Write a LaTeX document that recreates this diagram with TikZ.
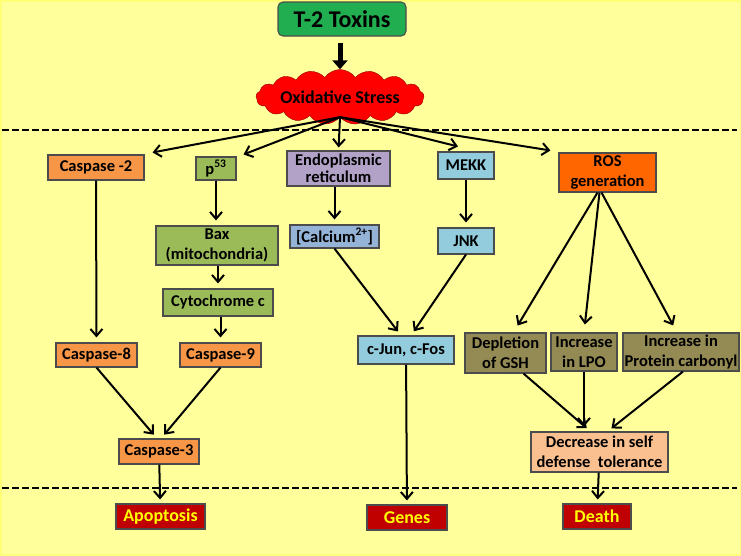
\documentclass[tikz,border=0pt]{standalone}
\usepackage{fontspec}
\setmainfont{Carlito}
\usetikzlibrary{arrows.meta,shapes.symbols}

\definecolor{PaleYellow}{RGB}{255,255,155}
\definecolor{EdgeYellow}{RGB}{255,255,120}
\definecolor{ToxinGreen}{RGB}{32,174,80}
\definecolor{CaspOrange}{RGB}{247,150,70}
\definecolor{LeafGreen}{RGB}{155,187,89}
\definecolor{ErPurple}{RGB}{178,162,199}
\definecolor{SkyBlue}{RGB}{147,205,221}
\definecolor{CalcBlue}{RGB}{149,179,215}
\definecolor{RosOrange}{RGB}{255,102,0}
\definecolor{OliveBox}{RGB}{148,138,84}
\definecolor{PeachBox}{RGB}{250,192,144}
\definecolor{DarkRed}{RGB}{192,0,0}
\definecolor{TextYellow}{RGB}{255,255,0}

\begin{document}
\begin{tikzpicture}[x=1pt,y=-1pt,
    box/.style={draw=black!70, line width=1.1pt, inner sep=1pt, align=center, text=black,
                font=\fontsize{16.5}{19.5}\selectfont\bfseries},
    endbox/.style={box, fill=DarkRed, text=TextYellow,
                font=\fontsize{18}{21}\selectfont\bfseries},
    arr/.style={-{Straight Barb[length=7pt,width=12pt]}, line width=2pt, shorten >=5pt},
    divider/.style={line width=2pt, dash pattern=on 7pt off 3pt}]
    % background
    \useasboundingbox (0,0) rectangle (741,555);
    \fill[PaleYellow] (0,0) rectangle (741,555);
    \draw[EdgeYellow, line width=3pt] (0,0) rectangle (741,555);

    % top: toxin and stress
    \node[box, fill=ToxinGreen, rounded corners=5pt, minimum width=128pt, minimum height=34pt,
          font=\fontsize{24}{28}\selectfont\bfseries] (toxins) at (342,19) {T-2 Toxins};
    \node[cloud, cloud puffs=17, cloud puff arc=110, cloud ignores aspect, draw=red!60!black,
          fill=red, minimum width=168pt, minimum height=55pt, inner sep=0pt,
          font=\fontsize{18}{21}\selectfont\bfseries, text=black] (stress) at (340,97) {Oxidative Stress};
    \draw[-{Triangle[length=9pt,width=15pt]}, line width=5pt, shorten <=6pt]
        (toxins.south -| stress.north) -- (stress.north);

    % dividers
    \draw[divider] (2,130) -- (737,130);
    \draw[divider] (2,488) -- (737,488);

    % first row
    \node[box, fill=CaspOrange, minimum width=96pt, minimum height=25pt] (casp2) at (96,167.5) {Caspase -2};
    \node[box, fill=LeafGreen, minimum width=40pt, minimum height=23pt] (p53) at (216,168.5) {p\textsuperscript{53}};
    \node[box, fill=ErPurple, minimum width=103pt, minimum height=35pt, inner sep=0pt] (er) at (338.5,168.5) {Endoplasmic\\[-3pt]reticulum};
    \node[box, fill=SkyBlue, minimum width=56pt, minimum height=27pt] (mekk) at (466,165.5) {MEKK};
    \node[box, fill=RosOrange, minimum width=97pt, minimum height=39pt] (ros) at (607.5,172.5) {ROS\\generation};

    % middle boxes
    \node[box, fill=LeafGreen, minimum width=122pt, minimum height=39pt] (bax) at (217,245.5) {Bax\\(mitochondria)};
    \node[box, fill=LeafGreen, minimum width=110pt, minimum height=27pt] (cytc) at (218,302.5) {Cytochrome c};
    \node[box, fill=CalcBlue, minimum width=89pt, minimum height=23pt] (calcium) at (334.5,236.5) {[Calcium\textsuperscript{2+}]};
    \node[box, fill=SkyBlue, minimum width=56pt, minimum height=26pt] (jnk) at (466,241) {JNK};

    % lower boxes
    \node[box, fill=CaspOrange, minimum width=81pt, minimum height=24pt] (casp8) at (96.5,355) {Caspase-8};
    \node[box, fill=CaspOrange, minimum width=81pt, minimum height=24pt] (casp9) at (220.5,355) {Caspase-9};
    \node[box, fill=CaspOrange, minimum width=80pt, minimum height=25pt] (casp3) at (159,451.5) {Caspase-3};
    \node[box, fill=SkyBlue, minimum width=96pt, minimum height=28pt] (cjun) at (406,350) {c-Jun, c-Fos};
    \node[box, fill=OliveBox, minimum width=81pt, minimum height=40pt] (gsh) at (505.5,353) {Depletion\\of GSH};
    \node[box, fill=OliveBox, minimum width=66pt, minimum height=38pt] (lpo) at (584,352) {Increase\\in LPO};
    \node[box, fill=OliveBox, minimum width=116pt, minimum height=38pt] (protein) at (681,352) {Increase in\\Protein carbonyl};
    \node[box, fill=PeachBox, minimum width=137pt, minimum height=40pt] (decrease) at (599.5,452) {Decrease in self\\defense\ \ tolerance};

    % outcomes
    \node[endbox, minimum width=89pt, minimum height=25pt] (apoptosis) at (160.5,516.5) {Apoptosis};
    \node[endbox, minimum width=80pt, minimum height=25pt] (genes) at (407,517.5) {Genes};
    \node[endbox, minimum width=68pt, minimum height=25pt] (death) at (597,516.5) {Death};

    % arrows out of the stress cloud
    \draw[arr, shorten >=0pt] (stress.south) -- ([xshift=8pt,yshift=2pt]casp2.north east);
    \draw[arr, shorten >=0pt] (stress.south) -- ([xshift=7pt,yshift=2pt]p53.north east);
    \draw[arr, shorten >=3pt] (stress.south) -- (er.north);
    \draw[arr, shorten >=0pt] (stress.south) -- ([xshift=-8pt,yshift=5pt]mekk.north);
    \draw[arr, shorten >=0pt] (stress.south) -- ([xshift=-8pt,yshift=2pt]ros.north west);

    % caspase branch
    \draw[arr] (casp2) -- (casp8);
    \draw[arr] (p53) -- (bax.north -| p53);
    \draw[arr] (bax.south -| cytc) -- (cytc);
    \draw[arr] (cytc.south -| casp9) -- (casp9);
    \draw[arr] (casp8.south) -- ([xshift=-2pt]casp3.north);
    \draw[arr] (casp9.south) -- ([xshift=2pt]casp3.north);
    \draw[arr, shorten >=4pt] (casp3) -- (apoptosis);

    % gene branch
    \draw[arr] (er.south -| calcium) -- (calcium);
    \draw[arr] (mekk) -- (jnk);
    \draw[arr] (calcium.south) -- ([xshift=-5pt]cjun.north);
    \draw[arr] (jnk.south) -- ([xshift=5pt]cjun.north);
    \draw[arr, shorten >=4pt] (cjun) -- (genes);

    % ROS branch
    \draw[arr, shorten >=8pt] ([xshift=-10pt]ros.south) -- ([xshift=8pt]gsh.north);
    \draw[arr, shorten >=8pt] ([xshift=-8pt]ros.south) -- (lpo.north);
    \draw[arr, shorten >=8pt] ([xshift=-6pt]ros.south) -- ([xshift=-4pt]protein.north);
    \draw[arr] ([xshift=18pt]gsh.south) -- ([xshift=-9pt]decrease.north);
    \draw[arr] (lpo.south) -- (lpo.south |- decrease.north);
    \draw[arr] ([xshift=2pt]protein.south) -- ([xshift=8pt]decrease.north);
    \draw[arr, shorten >=4pt] (decrease) -- (death);
\end{tikzpicture}
\end{document}
